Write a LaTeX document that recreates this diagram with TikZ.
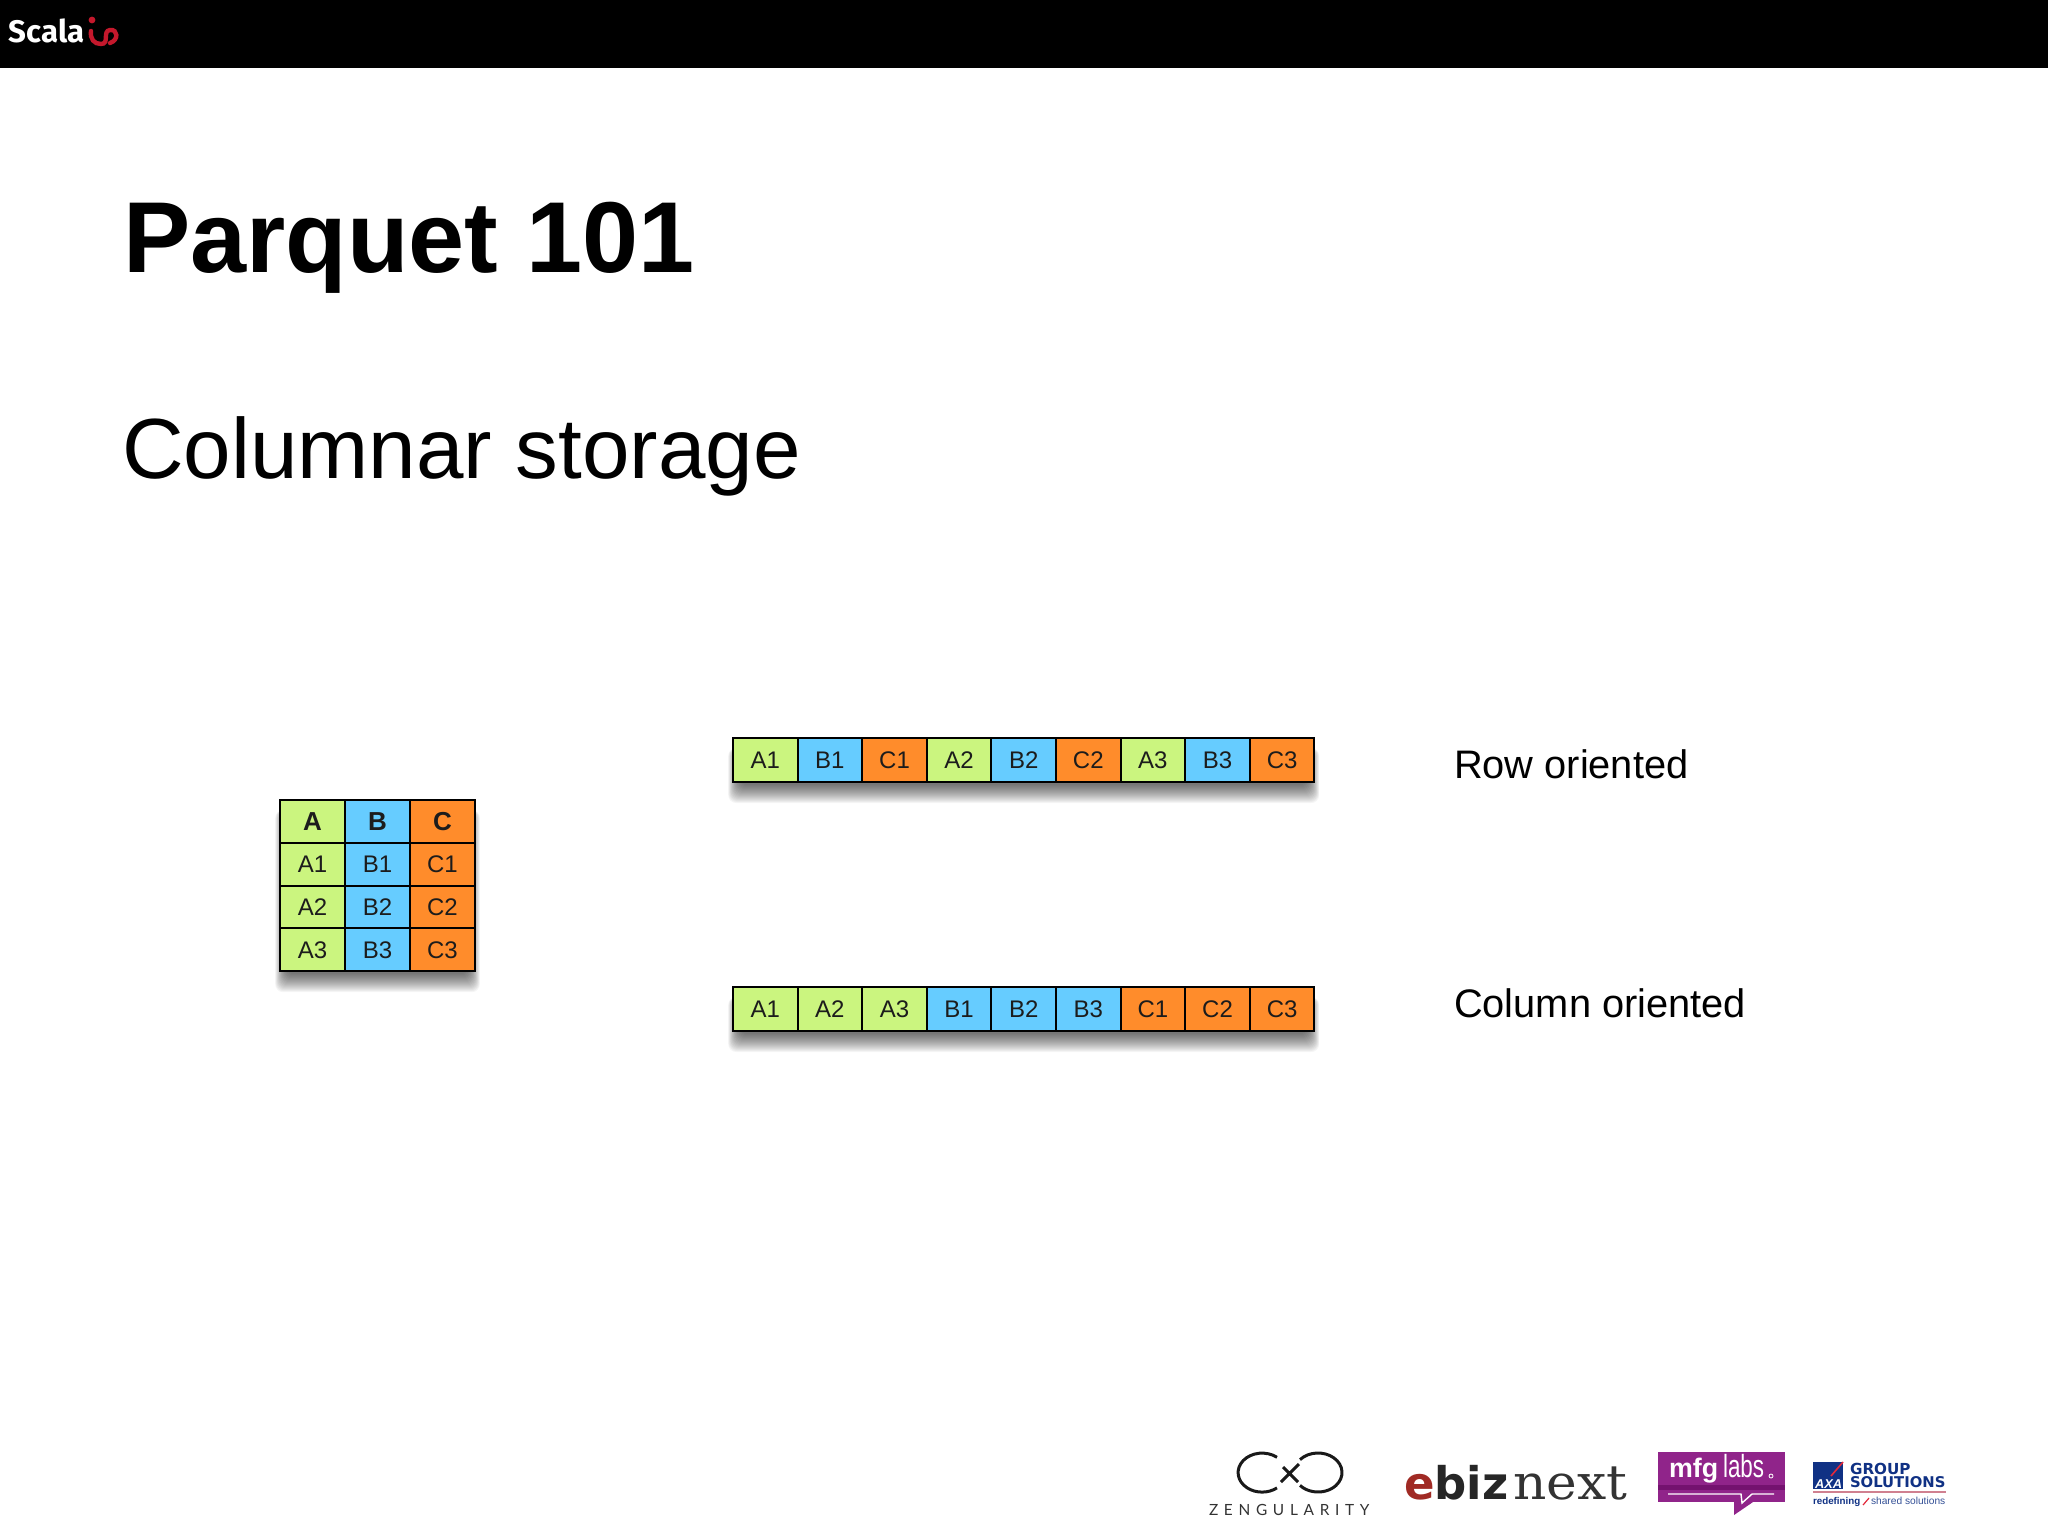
\documentclass[tikz,border=0pt]{standalone}
\usepackage{fontspec}
\setmainfont{Liberation Sans}
\newfontfamily\firafont{Fira Sans}
\newfontfamily\zenfont[LetterSpace=37]{Lato}
\newfontfamily\slabfont{DejaVu Sans}
\newfontfamily\nextfont[FakeStretch=1.08]{DejaVu Serif}
\newfontfamily\labsfont[FakeStretch=0.7]{Liberation Sans}
\usetikzlibrary{positioning,calc,backgrounds}
\definecolor{cellgreen}{HTML}{CBF57F}
\definecolor{cellblue}{HTML}{66CCFF}
\definecolor{cellorange}{HTML}{FF8C2B}
\definecolor{celltext}{HTML}{1C1C1C}
\definecolor{scalared}{HTML}{C4182C}
\definecolor{mfgpurple}{HTML}{90248A}
\definecolor{mfgdark}{HTML}{74126F}
\definecolor{axablue}{HTML}{103184}
\definecolor{axared}{HTML}{E2283A}
\definecolor{axaline}{HTML}{D08090}
\definecolor{ebizred}{HTML}{A02A24}
\tikzset{
  cell/.style={draw=black,line width=1pt,inner sep=0pt,outer sep=0pt,
    minimum width=32.3pt,minimum height=22pt,text=celltext,font=\fontsize{12}{12}\selectfont},
  gridcell/.style={cell,minimum width=32.5pt,minimum height=21.4pt},
  cella/.style={fill=cellgreen},
  cellb/.style={fill=cellblue},
  cellc/.style={fill=cellorange},
  heading/.style={font=\bfseries\fontsize{13}{13}\selectfont},
  word/.style={inner sep=0pt,outer sep=0pt,anchor=base west},
}
\newcommand{\softshadow}[2]{
  \begin{pgfonlayer}{background}
    \foreach \d in {0,1,...,18}
      \fill[black,opacity=.04,rounded corners=4pt]
        ($(#1.north west)+(6-0.6*\d,10)$) rectangle ($(#2.south east)+(-6+0.6*\d,3+\d)$);
  \end{pgfonlayer}
}

\begin{document}
\begin{tikzpicture}[x=.5pt,y=-.5pt,node distance=0pt]
  \useasboundingbox (0,0) rectangle (2048,1536);
  \fill[black] (0,0) rectangle (2048,68);

  % header logo
  \node[word,text=white,font=\firafont\bfseries\fontsize{15.6}{16}\selectfont] (scala) at (9,43) {Scala};
  \fill[scalared] (92,20) circle (3.4);
  \draw[scalared,line width=2.2pt,line cap=round]
    (91,31) .. controls (90,39) and (94,44) .. (101,44)
    .. controls (110,44) and (102,31) .. (110,30)
    .. controls (118,29) and (119,40) .. (110,43);

  % titles
  \node[word,font=\bfseries\fontsize{50.4}{50}\selectfont] (title) at (123,272) {Parquet 101};
  \node[word,font=\fontsize{42.7}{43}\selectfont] (subtitle) at (122,478) {Columnar storage};

  % table
  \node[gridcell,cella,heading,anchor=north west] (t_a) at (280,800) {A};
  \node[gridcell,cellb,heading] (t_b) [right=of t_a] {B};
  \node[gridcell,cellc,heading] (t_c) [right=of t_b] {C};
  \node[gridcell,cella] (t_a1) [below=of t_a] {A1};
  \node[gridcell,cellb] (t_b1) [right=of t_a1] {B1};
  \node[gridcell,cellc] (t_c1) [right=of t_b1] {C1};
  \node[gridcell,cella] (t_a2) [below=of t_a1] {A2};
  \node[gridcell,cellb] (t_b2) [right=of t_a2] {B2};
  \node[gridcell,cellc] (t_c2) [right=of t_b2] {C2};
  \node[gridcell,cella] (t_a3) [below=of t_a2] {A3};
  \node[gridcell,cellb] (t_b3) [right=of t_a3] {B3};
  \node[gridcell,cellc] (t_c3) [right=of t_b3] {C3};
  \softshadow{t_a}{t_c3}

  % row oriented
  \node[cell,cella,anchor=north west] (r_1) at (733,738) {A1};
  \node[cell,cellb] (r_2) [right=of r_1] {B1};
  \node[cell,cellc] (r_3) [right=of r_2] {C1};
  \node[cell,cella] (r_4) [right=of r_3] {A2};
  \node[cell,cellb] (r_5) [right=of r_4] {B2};
  \node[cell,cellc] (r_6) [right=of r_5] {C2};
  \node[cell,cella] (r_7) [right=of r_6] {A3};
  \node[cell,cellb] (r_8) [right=of r_7] {B3};
  \node[cell,cellc] (r_9) [right=of r_8] {C3};
  \softshadow{r_1}{r_9}
  \node[word,font=\fontsize{19.9}{20}\selectfont] (rowlabel) at (1454,778) {Row oriented};

  % column oriented
  \node[cell,cella,anchor=north west] (c_1) at (733,987) {A1};
  \node[cell,cella] (c_2) [right=of c_1] {A2};
  \node[cell,cella] (c_3) [right=of c_2] {A3};
  \node[cell,cellb] (c_4) [right=of c_3] {B1};
  \node[cell,cellb] (c_5) [right=of c_4] {B2};
  \node[cell,cellb] (c_6) [right=of c_5] {B3};
  \node[cell,cellc] (c_7) [right=of c_6] {C1};
  \node[cell,cellc] (c_8) [right=of c_7] {C2};
  \node[cell,cellc] (c_9) [right=of c_8] {C3};
  \softshadow{c_1}{c_9}
  \node[word,font=\fontsize{19.9}{20}\selectfont] (collabel) at (1454,1017) {Column oriented};

  % zengularity
  \draw[black!90,line width=1.5pt] (1277,1457.3) arc[start angle=-51.6,end angle=-308.4,x radius=24,y radius=19.5];
  \draw[black!90,line width=1.5pt] (1300,1459.6) arc[start angle=221.4,end angle=498.6,x radius=24,y radius=19.5];
  \draw[black!90,line width=1.5pt] (1283,1467) -- (1298,1482) (1299,1464) -- (1281,1482);
  \node[word,text=black!80,font=\zenfont\fontsize{7.7}{8}\selectfont] (zen) at (1209,1515) {ZENGULARITY};

  % ebiznext
  \node[word,font=\slabfont\bfseries\fontsize{22.5}{23}\selectfont] (ebiz) at (1404,1499) {\textcolor{ebizred}{e}\textcolor{black!85}{biz}};
  \node[word,text=black!80,font=\nextfont\fontsize{24}{24}\selectfont] (enext) at (1513,1499) {next};

  % mfg labs
  \fill[mfgpurple] (1658,1452) rectangle (1785,1502);
  \fill[mfgpurple] (1734,1502) -- (1734,1515) -- (1753,1502) -- cycle;
  \fill[mfgdark] (1658,1485) rectangle (1785,1490);
  \draw[white,line width=.7pt] (1668,1494) -- (1741,1494) -- (1742,1503) -- (1752,1494) -- (1774,1494);
  \node[word,text=white,font=\bfseries\fontsize{13.4}{14}\selectfont] (mfg) at (1669,1477) {mfg};
  \node[word,text=white,font=\labsfont\fontsize{16}{16}\selectfont] (labs) at (1723,1477) {labs};
  \draw[white,line width=.4pt] (1771,1476) circle (2);

  % axa
  \fill[axablue] (1813,1462) rectangle (1843,1489);
  \draw[axared,line width=.8pt] (1843,1462) -- (1831,1476);
  \node[word,text=white,font=\bfseries\itshape\fontsize{6.4}{7}\selectfont] (axa) at (1815,1488) {AXA};
  \node[word,text=axablue,font=\slabfont\bfseries\fontsize{7.6}{8}\selectfont] (group) at (1850,1474) {GROUP};
  \node[word,text=axablue,font=\slabfont\bfseries\fontsize{7.4}{8}\selectfont] (solutions) at (1850,1487) {SOLUTIONS};
  \draw[axaline,line width=.6pt] (1813,1492) -- (1946,1492);
  \node[word,text=axablue,font=\bfseries\fontsize{4.9}{5}\selectfont] (redefining) at (1813,1504) {redefining};
  \draw[axared,line width=.6pt] (1863,1505) -- (1869,1498);
  \node[word,text=axablue!85,font=\fontsize{5.1}{5}\selectfont] (shared) at (1871,1504) {shared solutions};
\end{tikzpicture}
\end{document}
